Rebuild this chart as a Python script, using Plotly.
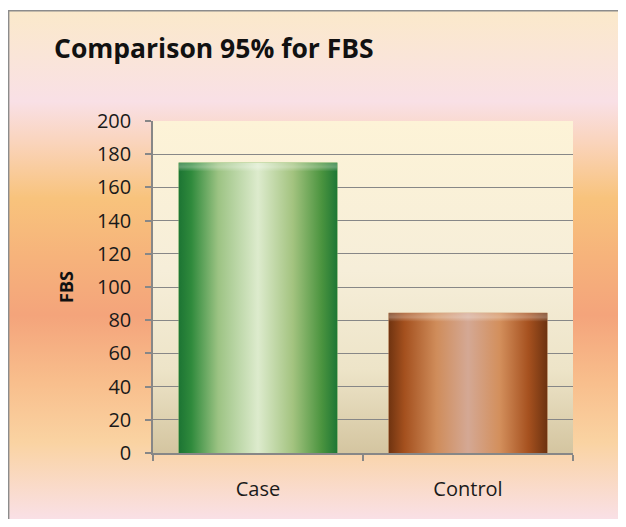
import base64
import plotly.graph_objects as go

# ---- data ----
categories = ["Case", "Control"]
fbs_values = [175, 84.5]
y_tick_values = [0, 20, 40, 60, 80, 100, 120, 140, 160, 180, 200]
title_text = "Comparison 95% for FBS"
y_title_text = "FBS"

# ---- layout constants (page has an 8px body margin) ----
OFF = 8
W, H = 626 - 2 * OFF, 527 - 2 * OFF
PLOT_L, PLOT_R, PLOT_T, PLOT_B = 153 - OFF, 573 - OFF, 121 - OFF, 453 - OFF
ML, MR, MT, MB = PLOT_L, W - PLOT_R, PLOT_T, H - PLOT_B
PW, PH = PLOT_R - PLOT_L, PLOT_B - PLOT_T
YMAX = 200
BAR_W = 0.757
FONT = "Open Sans"
AXIS_COLOR = "#878787"


def svg_uri(svg):
    return "data:image/svg+xml;base64," + base64.b64encode(svg.encode()).decode()


def stops_xml(stops):
    return "".join(f'<stop offset="{o}" stop-color="{c}"/>' for o, c in stops)


def vertical_gradient(stops):
    svg = (
        '<svg xmlns="http://www.w3.org/2000/svg" width="100" height="100" '
        'viewBox="0 0 100 100" preserveAspectRatio="none">'
        '<defs><linearGradient id="g" x1="0" y1="0" x2="0" y2="1">'
        + stops_xml(stops)
        + '</linearGradient></defs>'
        '<rect x="0" y="0" width="100" height="100" fill="url(#g)"/></svg>'
    )
    return svg_uri(svg)


def cylinder_gradient(stops, top_frac):
    t = max(0.5, min(30, top_frac * 100))
    svg = (
        '<svg xmlns="http://www.w3.org/2000/svg" width="100" height="100" '
        'viewBox="0 0 100 100" preserveAspectRatio="none">'
        '<defs><linearGradient id="h" x1="0" y1="0" x2="1" y2="0">'
        + stops_xml(stops)
        + '</linearGradient>'
        '<linearGradient id="t" x1="0" y1="0" x2="0" y2="1">'
        '<stop offset="0" stop-color="#ffffff" stop-opacity="0.2"/>'
        '<stop offset="0.5" stop-color="#ffffff" stop-opacity="0.3"/>'
        '<stop offset="1" stop-color="#ffffff" stop-opacity="0"/>'
        '</linearGradient></defs>'
        '<rect x="0" y="0" width="100" height="100" fill="url(#h)"/>'
        f'<rect x="0" y="0" width="100" height="{t}" fill="url(#t)"/></svg>'
    )
    return svg_uri(svg)


outer_bg = vertical_gradient([
    (0.0, "#FBE9CA"), (0.09, "#FAE5D8"), (0.18, "#F9E0E6"), (0.26, "#FAD4BC"),
    (0.37, "#F8C37C"), (0.49, "#F6B27B"), (0.60, "#F4A47B"), (0.73, "#F8BE8C"),
    (0.85, "#FAD3A2"), (1.0, "#F9E0E6"),
])
plot_bg = vertical_gradient([
    (0.0, "#FDF3D7"), (0.45, "#F6EED9"), (0.75, "#EDE4C8"), (1.0, "#D4C5A0"),
])

bar_styles = [
    dict(mid="#8FBF6E", stops=[
        (0.0, "#1C7433"), (0.08, "#2F8A3C"), (0.25, "#9CC383"), (0.5, "#DDEBCD"),
        (0.72, "#A3C37F"), (0.9, "#4B943F"), (1.0, "#1D7634"),
    ]),
    dict(mid="#C48858", stops=[
        (0.0, "#6F3310"), (0.1, "#A4501E"), (0.3, "#CF8C5A"), (0.5, "#D4A894"),
        (0.7, "#D38F5C"), (0.88, "#A6511F"), (1.0, "#6C3210"),
    ]),
]

fig = go.Figure()
fig.add_trace(go.Bar(
    x=categories,
    y=fbs_values,
    width=BAR_W,
    marker=dict(color=[s["mid"] for s in bar_styles], line=dict(width=0)),
    hoverinfo="x+y",
))

# outer chart area: page (7,10) to the bottom-right corner
BG_X0, BG_Y0 = 7 - OFF, 10 - OFF
images = [
    dict(source=outer_bg, xref="paper", yref="paper",
         x=(BG_X0 - PLOT_L) / PW, y=(PLOT_B - BG_Y0) / PH,
         sizex=(W - BG_X0) / PW, sizey=(H - BG_Y0) / PH,
         xanchor="left", yanchor="top", sizing="stretch", layer="below"),
    dict(source=plot_bg, xref="paper", yref="paper", x=0, y=1, sizex=1, sizey=1,
         xanchor="left", yanchor="top", sizing="stretch", layer="below"),
]
for i, (cat, val) in enumerate(zip(categories, fbs_values)):
    bar_px = val / YMAX * PH
    images.append(dict(
        source=cylinder_gradient(bar_styles[i]["stops"], 9 / bar_px),
        xref="x", yref="y", x=i - BAR_W / 2, y=val, sizex=BAR_W, sizey=val,
        xanchor="left", yanchor="top", sizing="stretch", layer="above",
    ))

fig.update_layout(
    width=W, height=H,
    margin=dict(l=ML, r=MR, t=MT, b=MB, autoexpand=False),
    paper_bgcolor="white",
    plot_bgcolor="rgba(0,0,0,0)",
    showlegend=False,
    font=dict(family=FONT, color="#1a1a1a", size=20),
    title=dict(text="<b>" + title_text + "</b>", xref="container", yref="container",
               x=46 / W, y=1 - (49 - OFF) / H, xanchor="left", yanchor="middle",
               font=dict(family=FONT, size=26.5, color="#111111")),
    images=images,
    shapes=[dict(type="rect", xref="paper", yref="paper",
                 x0=(0.6 - PLOT_L) / PW, x1=(W + 20 - PLOT_L) / PW,
                 y0=(PLOT_B - (H + 20)) / PH, y1=(PLOT_B - (BG_Y0 + 0.8)) / PH,
                 line=dict(color="#8C8C8C", width=1.6), fillcolor="rgba(0,0,0,0)",
                 layer="above")],
    xaxis=dict(
        type="category", range=[-0.5, 1.5], showgrid=False,
        showline=True, linecolor=AXIS_COLOR, linewidth=1.5,
        ticks="outside", tickson="boundaries", ticklen=6, tickcolor=AXIS_COLOR, tickwidth=1.5,
        tickfont=dict(size=20, color="#1a1a1a"), ticklabelstandoff=17,
    ),
    yaxis=dict(
        range=[0, YMAX], tickvals=y_tick_values, showgrid=True,
        gridcolor=AXIS_COLOR, gridwidth=1.3,
        showline=True, linecolor=AXIS_COLOR, linewidth=1.5,
        ticks="outside", ticklen=6, tickcolor=AXIS_COLOR, tickwidth=1.5,
        tickfont=dict(size=20, color="#1a1a1a"), ticklabelstandoff=10,
        zeroline=False,
        title=dict(text="<b>" + y_title_text + "</b>", standoff=19,
                   font=dict(size=18, color="#111111")),
    ),
)

fig.write_html("out.html")
